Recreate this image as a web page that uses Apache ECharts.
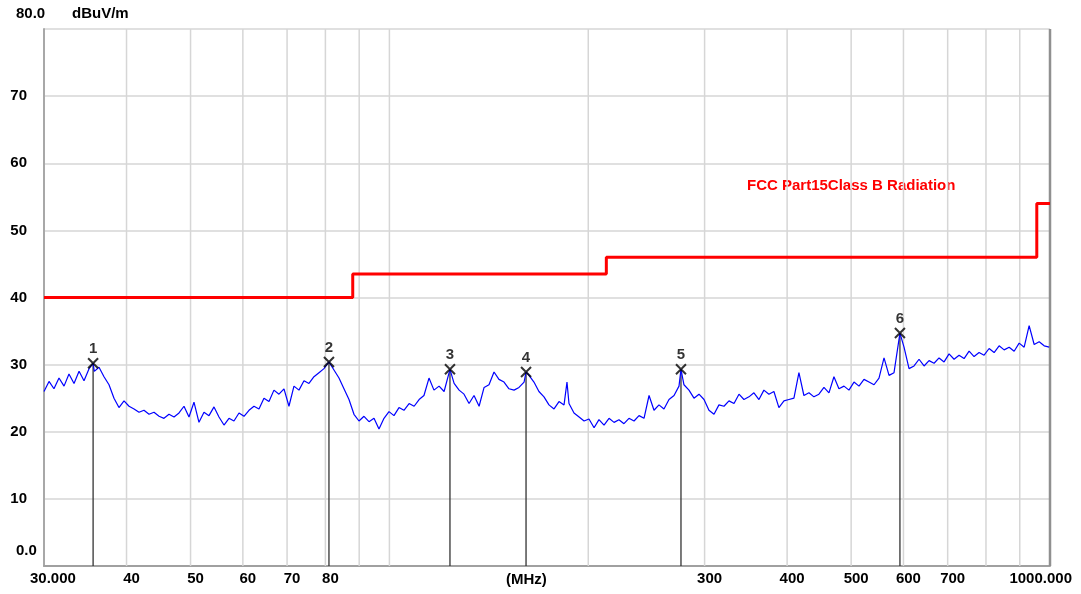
<!DOCTYPE html>
<html>
<head>
<meta charset="utf-8">
<script src="https://cdn.jsdelivr.net/npm/echarts@6/dist/echarts.min.js"></script>
<style>
html,body{margin:0;padding:0;background:#fff;}
#chart{width:1081px;height:594px;}
</style>
</head>
<body>
<div id="chart"></div>
<script>
// measured trace, [MHz, dBuV/m]
var trace = [[30.0,26.0],[30.53,27.5],[31.06,26.4],[31.61,28.0],[32.17,26.8],[32.73,28.6],[33.31,27.2],[33.9,29.0],[34.49,27.6],[35.1,29.4],
	[35.6,30.2],[35.75,29.0],[36.34,29.6],[36.98,28.2],[37.63,27.0],[38.29,25.0],[38.96,23.6],[39.65,24.6],[40.35,23.8],[41.06,23.4],
	[41.78,22.9],[42.51,23.2],[43.26,22.6],[44.02,22.9],[44.8,22.3],[45.58,22.0],[46.38,22.6],[47.2,22.2],[48.03,22.8],[48.87,23.8],
	[49.73,22.2],[50.6,24.4],[51.49,21.4],[52.4,22.9],[53.32,22.4],[54.26,23.7],[55.21,22.2],[56.18,21.0],[57.17,22.0],[58.17,21.6],
	[59.2,22.8],[60.24,22.3],[61.3,23.2],[62.37,23.8],[63.47,23.4],[64.58,25.0],[65.72,24.5],[66.87,26.2],[68.05,25.6],[69.25,26.4],
	[70.46,23.8],[71.7,26.8],[72.96,26.2],[74.25,27.6],[75.55,27.2],[76.88,28.2],[78.23,28.8],[79.6,29.4],[81.0,30.4],[82.43,29.2],
	[83.88,28.0],[85.35,26.4],[86.86,24.8],[88.38,22.6],[89.94,21.6],[91.52,22.3],[93.13,21.5],[94.77,22.0],[96.43,20.4],[98.13,22.0],
	[99.86,23.0],[101.6,22.4],[103.4,23.6],[105.2,23.2],[107.1,24.2],[109.0,23.8],[110.9,24.8],[112.8,25.4],[114.8,28.0],[116.8,26.2],
	[118.9,26.8],[121.0,26.0],[123.5,29.3],[125.3,27.2],[127.5,26.2],[129.7,25.6],[132.0,24.2],[134.3,25.4],[136.7,23.8],[139.1,26.6],
	[141.5,27.0],[144.0,28.9],[146.5,27.8],[149.1,27.4],[151.7,26.4],[154.4,26.2],[157.1,26.6],[159.9,27.4],[161.0,28.9],[162.7,28.4],
	[165.5,27.4],[168.4,26.0],[171.4,25.2],[174.4,24.0],[177.5,23.4],[180.6,24.5],[183.8,24.0],[185.7,27.4],[187.0,24.2],[190.3,22.8],
	[193.7,22.2],[197.1,21.6],[200.5,21.9],[204.1,20.6],[207.6,21.8],[211.3,21.0],[215.0,22.0],[218.8,21.4],[222.6,21.8],[226.5,21.2],
	[230.5,22.0],[234.6,21.6],[238.7,22.4],[242.9,22.0],[247.2,25.4],[251.5,23.2],[255.9,24.0],[260.4,23.4],[265.0,24.8],[269.7,25.4],
	[274.4,26.8],[276.3,29.3],[279.2,27.0],[284.1,26.2],[289.1,25.0],[294.2,25.6],[299.4,24.8],[304.6,23.2],[310.0,22.6],[315.4,24.0],
	[321.0,23.8],[326.6,24.6],[332.4,24.2],[338.2,25.6],[344.1,24.8],[350.2,25.2],[356.3,25.8],[362.6,24.8],[368.9,26.2],[375.4,25.6],
	[382.0,26.0],[388.7,23.6],[395.6,24.6],[402.5,24.8],[409.6,25.0],[416.8,28.8],[424.1,25.4],[431.6,25.8],[439.2,25.2],[446.9,25.6],
	[454.8,26.6],[462.8,25.8],[470.9,28.2],[479.2,26.4],[487.7,26.8],[496.2,26.2],[505.0,27.4],[513.9,26.8],[522.9,27.8],[532.1,27.4],
	[541.5,27.0],[551.0,28.0],[560.7,31.0],[570.6,28.4],[580.6,28.8],[592.7,34.7],[601.2,32.6],[611.8,29.4],[622.6,29.8],[633.5,30.8],
	[644.7,29.8],[656.0,30.6],[667.6,30.2],[679.3,31.0],[691.3,30.4],[703.4,31.6],[715.8,30.8],[728.4,31.4],[741.2,30.9],[754.3,32.0],
	[767.5,31.2],[781.0,31.8],[794.8,31.4],[808.8,32.4],[823.0,31.8],[837.5,32.8],[852.3,32.2],[867.3,32.6],[882.5,32.0],[898.1,33.2],
	[913.9,32.6],[929.9,35.8],[946.3,33.0],[963.0,33.4],[979.9,32.8],[997.2,32.6]];

var limitLine = [[30,40],[88,40],[88,43.5],[213,43.5],[213,46],[955,46],[955,54],[1000,54]];
var markers = [[35.6,30.2],[81.0,30.4],[123.5,29.3],[161.0,28.9],[276.3,29.3],[592.7,34.7]];
var markerNames = ['1','2','3','4','5','6'];
var gridFreqs = [40,50,60,70,80,90,100,200,300,400,500,600,700,800,900];
var xTicks = [30,40,50,60,70,80,300,400,500,600,700,1000];
var xTickLabels = ['30.000','40','50','60','70','80','300','400','500','600','700','1000.000'];

var FONT = 'Liberation Sans';
var LABEL_FONT = 'bold 15px ' + FONT;
var chart = echarts.init(document.getElementById('chart'));

function vline(color, width){
	return function(params, api){
		var f = api.value(0);
		var top = params.seriesName == 'markerLines' ? api.value(1) : 80;
		var p0 = api.coord([f, 0]);
		var p1 = api.coord([f, top]);
		return {type:'line', shape:{x1:p0[0], y1:p0[1], x2:p1[0], y2:p1[1]}, style:{stroke:color, lineWidth:width}};
	}
}

var option = {
	animation: false,
	grid: {left:44, right:31, top:29, bottom:28},
	xAxis: {
		type: 'log', logBase: 10, min: 30, max: 1000,
		axisLine: {show:true, lineStyle:{color:'#a0a0a0', width:2}},
		axisTick: {show:false},
		axisLabel: {show:false},
		splitLine: {show:false}
	},
	yAxis: {
		type: 'value', min: 0, max: 80, interval: 10,
		axisLine: {show:true, lineStyle:{color:'#a8a8a8', width:2}},
		axisTick: {show:false},
		splitLine: {lineStyle:{color:'#d6d6d6', width:1.5}},
		axisLabel: {
			margin: 17, color:'#000', fontFamily:FONT, fontSize:15, fontWeight:'bold',
			formatter: function(v){ return (v === 0 || v === 80) ? '' : String(v); }
		}
	},
	graphic: [
		{type:'text', left:16, top:6, style:{text:'80.0', font:LABEL_FONT, fill:'#000'}},
		{type:'text', left:72, top:6, style:{text:'dBuV/m', font:LABEL_FONT, fill:'#000'}},
		{type:'text', left:16, top:543, style:{text:'0.0', font:LABEL_FONT, fill:'#000'}},
		{type:'text', left:506, top:572, style:{text:'(MHz)', font:LABEL_FONT, fill:'#000'}},
		{type:'text', left:747, top:178, style:{text:'FCC Part15Class B Radiation', font:LABEL_FONT, fill:'#ff0000'}}
	],
	series: [
		{
			name: 'grid', type: 'custom', z: 1, silent: true,
			data: gridFreqs.map(function(f){ return [f]; }),
			renderItem: vline('#d6d6d6', 1.5)
		},
		{
			name: 'border', type: 'custom', z: 1, silent: true,
			data: [[1000]],
			renderItem: vline('#909090', 2.5)
		},
		{
			name: 'xLabels', type: 'custom', z: 5, silent: true,
			data: xTicks.map(function(f, i){ return [f, i]; }),
			renderItem: function(params, api){
				var i = api.value(1);
				var p = api.coord([api.value(0), 0]);
				var align = 'center', x = p[0] + 5;
				if (i == 0) { align = 'left'; x = p[0] - 14; }
				if (i == xTicks.length - 1) { align = 'right'; x = p[0] + 22; }
				return {type:'text', x:x, y:p[1] + 5, style:{text:xTickLabels[i], textAlign:align, textVerticalAlign:'top', font:LABEL_FONT, fill:'#000'}};
			}
		},
		{
			name: 'limit', type: 'line', z: 3, symbol: 'none',
			data: limitLine,
			lineStyle: {color:'#ff0000', width:3}
		},
		{
			name: 'trace', type: 'line', z: 4, symbol: 'none',
			data: trace,
			lineStyle: {color:'#0000ff', width:1.2}
		},
		{
			name: 'markerLines', type: 'custom', z: 2, silent: true,
			data: markers,
			renderItem: vline('#333333', 1.3)
		},
		{
			name: 'markers', type: 'scatter', z: 6,
			data: markers,
			symbol: 'path://M0,0L10,10M10,0L0,10',
			symbolSize: 10,
			itemStyle: {color:'transparent', borderColor:'#000', borderWidth:2},
			label: {
				show: true, position: 'top', distance: 1, color:'#000', fontFamily:FONT, fontSize:15, fontWeight:'bold',
				formatter: function(p){ return markerNames[p.dataIndex]; }
			}
		}
	]
};
chart.setOption(option);
</script>
</body>
</html>
